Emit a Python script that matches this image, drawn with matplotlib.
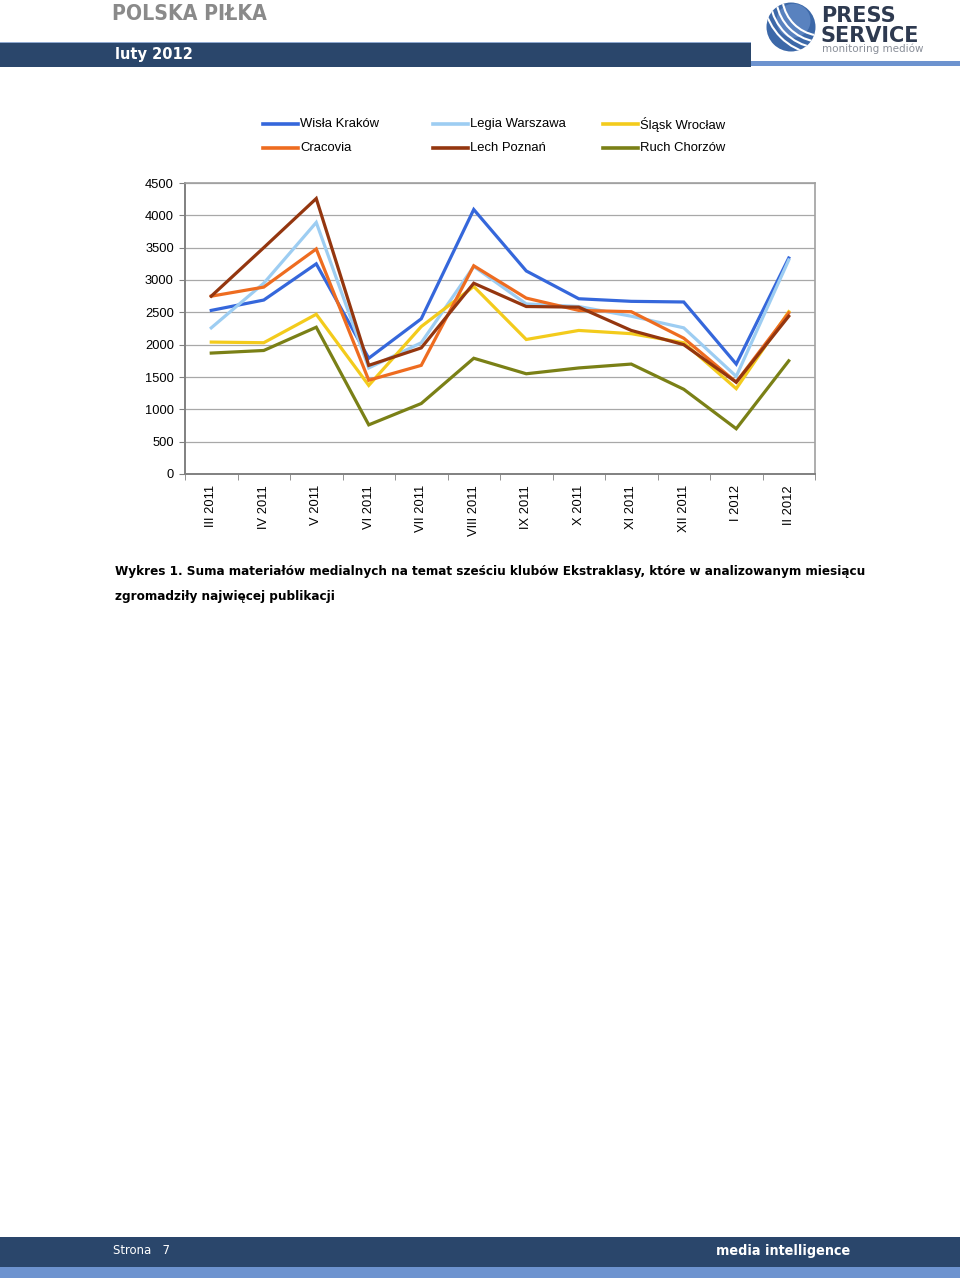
import matplotlib
matplotlib.use("Agg")
import matplotlib.pyplot as plt
from matplotlib.patches import Rectangle, Circle, Arc
from matplotlib.lines import Line2D

# dane do wykresu
miesiace = ["III 2011", "IV 2011", "V 2011", "VI 2011", "VII 2011", "VIII 2011",
            "IX 2011", "X 2011", "XI 2011", "XII 2011", "I 2012", "II 2012"]
wisla = [2530, 2690, 3250, 1790, 2400, 4090, 3140, 2710, 2670, 2660, 1700, 3340]
legia = [2260, 2950, 3890, 1640, 2030, 3210, 2630, 2590, 2440, 2260, 1510, 3310]
slask = [2040, 2030, 2470, 1370, 2280, 2900, 2080, 2220, 2170, 2030, 1320, 2510]
cracovia = [2750, 2890, 3480, 1450, 1680, 3220, 2720, 2530, 2510, 2100, 1420, 2490]
lech = [2750, 3500, 4260, 1680, 1950, 2950, 2590, 2580, 2220, 2000, 1420, 2440]
ruch = [1870, 1910, 2270, 760, 1090, 1790, 1550, 1640, 1700, 1310, 700, 1750]

kluby = ["Wisła Kraków", "Legia Warszawa", "Śląsk Wrocław",
         "Cracovia", "Lech Poznań", "Ruch Chorzów"]
serie = [wisla, legia, slask, cracovia, lech, ruch]
kolory = ["#3567DB", "#9DCDF2", "#F3CB1C", "#EE6C20", "#94360F", "#7A8016"]

W, H = 960, 1283
GRANAT = "#2A466B"
NIEBIESKI = "#6D93CF"
WASKI = dict(family="DejaVu Sans", fontstretch="condensed")


def fx(x):
    return x / W


def fy(y):
    return 1 - y / H


fig = plt.figure(figsize=(9.6, 12.83), dpi=100)
fig.patch.set_facecolor("white")

# naglowek
fig.patches.append(Rectangle((0, fy(67)), fx(751), 25 / H, transform=fig.transFigure,
                             facecolor=GRANAT, edgecolor="none"))
fig.patches.append(Rectangle((0, fy(43)), fx(751), 1.5 / H, transform=fig.transFigure,
                             facecolor="#8FA9D0", edgecolor="none"))
fig.patches.append(Rectangle((fx(751), fy(66)), fx(209), 5 / H, transform=fig.transFigure,
                             facecolor=NIEBIESKI, edgecolor="none"))
fig.text(fx(112), fy(14), "POLSKA PIŁKA", color="#8A8A8A", fontsize=15.2,
         fontweight="bold", va="center", ha="left", **WASKI)
fig.text(fx(115), fy(54), "luty 2012", color="white", fontsize=11.7,
         fontweight="bold", va="center", ha="left", **WASKI)

# logo
logo = fig.add_axes([fx(766), fy(52), 50 / W, 50 / H])
logo.set_xlim(-1, 1)
logo.set_ylim(-1, 1)
logo.set_aspect("equal")
logo.axis("off")
kolo = Circle((0, 0), 0.98, facecolor="#3C68A8", edgecolor="none")
logo.add_patch(kolo)
logo.add_patch(Circle((0.1, 0.25), 0.68, facecolor="#7198D2", edgecolor="none", alpha=0.55))
for r in [1.6, 1.85, 2.1, 2.35]:
    luk = Arc((1.25, 1.25), r * 2, r * 2, theta1=190, theta2=260, color="white", lw=1.5)
    logo.add_patch(luk)
    luk.set_clip_path(kolo)
fig.text(fx(821), fy(26), "PRESS\nSERVICE", color="#2E3A50", fontsize=15, fontweight="heavy",
         family="DejaVu Sans", va="center", ha="left", linespacing=1.0)
fig.text(fx(822), fy(49), "monitoring mediów", color="#8A8F99", fontsize=7.5,
         family="DejaVu Sans", va="center", ha="left")

# wykres
ax = fig.add_axes([fx(185), fy(474), 630 / W, 291 / H])
x = range(len(miesiace))
for nazwa, dane, kolor in zip(kluby, serie, kolory):
    ax.plot(x, dane, color=kolor, lw=2.3, solid_joinstyle="miter", label=nazwa, zorder=3)

ax.set_xlim(-0.5, len(miesiace) - 0.5)
ax.set_ylim(0, 4500)
ax.set_yticks(range(0, 4501, 500))
ax.set_yticklabels([str(v) for v in range(0, 4501, 500)], family="Liberation Sans", fontsize=9.3)
ax.set_xticks(list(x))
ax.set_xticklabels(miesiace, rotation=90, family="Liberation Sans", fontsize=9.3, va="top")
ax.set_xticks([i - 0.5 for i in range(len(miesiace) + 1)], minor=True)
ax.tick_params(axis="x", which="major", length=0, pad=8)
ax.tick_params(axis="x", which="minor", length=4, color="#808080")
ax.tick_params(axis="y", length=4, color="#808080", pad=4)
ax.yaxis.grid(True, color="#A8A8A8", lw=0.9)
ax.set_axisbelow(True)
for s in ["left", "bottom"]:
    ax.spines[s].set_color("#808080")
    ax.spines[s].set_linewidth(1.4)
for s in ["top", "right"]:
    ax.spines[s].set_color("#A0A0A0")
    ax.spines[s].set_linewidth(1.2)

# legenda
kol_x = [263, 433, 603]
wier_y = [124, 148]
for i, (nazwa, kolor) in enumerate(zip(kluby, kolory)):
    lx = kol_x[i % 3]
    ly = wier_y[i // 3]
    fig.add_artist(Line2D([fx(lx), fx(lx + 35)], [fy(ly), fy(ly)], color=kolor, lw=2.6,
                          transform=fig.transFigure))
    fig.text(fx(lx + 37), fy(ly), nazwa, family="Liberation Sans", fontsize=9.4,
             va="center", ha="left")

# podpis
fig.text(fx(115), fy(572), "Wykres 1. Suma materiałów medialnych na temat sześciu klubów "
         "Ekstraklasy, które w analizowanym miesiącu",
         fontweight="bold", fontsize=9.6, va="center", ha="left", **WASKI)
fig.text(fx(115), fy(596), "zgromadziły najwięcej publikacji",
         fontweight="bold", fontsize=9.6, va="center", ha="left", **WASKI)

# stopka
fig.patches.append(Rectangle((0, fy(1267)), 1, 30 / H, transform=fig.transFigure,
                             facecolor=GRANAT, edgecolor="none"))
fig.patches.append(Rectangle((0, fy(1278)), 1, 11 / H, transform=fig.transFigure,
                             facecolor=NIEBIESKI, edgecolor="none"))
fig.text(fx(113), fy(1250), "Strona   7", color="white", fontsize=9.4,
         va="center", ha="left", **WASKI)
fig.text(fx(716), fy(1251), "media intelligence", color="white", fontsize=10.3,
         fontweight="bold", va="center", ha="left", **WASKI)

fig.savefig("out.png", dpi=100)
